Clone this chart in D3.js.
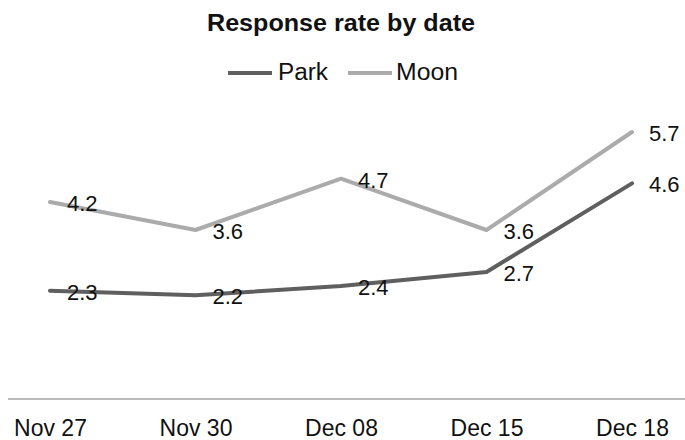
<!DOCTYPE html>
<html>
<head>
<meta charset="utf-8">
<script src="https://cdn.jsdelivr.net/npm/d3@7"></script>
<style>
  html, body { margin: 0; padding: 0; background: #fff; }
  svg { display: block; font-family: "Liberation Sans", Arial, sans-serif; }
</style>
</head>
<body>
<svg id="chart" width="685" height="440"></svg>
<script>
const categories = ["Nov 27", "Nov 30", "Dec 08", "Dec 15", "Dec 18"];
const parkValues = [2.3, 2.2, 2.4, 2.7, 4.6];
const moonValues = [4.2, 3.6, 4.7, 3.6, 5.7];
const seriesNames = ["Park", "Moon"];
const seriesColors = ["#5f5f5f", "#ababab"];
const titleText = "Response rate by date";

const svg = d3.select("#chart");

const x = d3.scalePoint().domain(categories).range([50, 632]);
const y = d3.scaleLinear().domain([0, 6]).range([398, 118]);

// Title
svg.append("text")
  .attr("x", 207).attr("y", 31)
  .attr("font-weight", "bold")
  .attr("font-size", 23)
  .attr("fill", "#111")
  .attr("textLength", 268)
  .attr("lengthAdjust", "spacingAndGlyphs")
  .text(titleText);

// Legend
const legendItems = [
  { name: seriesNames[0], color: seriesColors[0], x1: 228, x2: 272, tx: 278, w: 50 },
  { name: seriesNames[1], color: seriesColors[1], x1: 348, x2: 392, tx: 396, w: 62 }
];
legendItems.forEach(it => {
  svg.append("line")
    .attr("x1", it.x1).attr("x2", it.x2)
    .attr("y1", 73).attr("y2", 73)
    .attr("stroke", it.color).attr("stroke-width", 4);
  svg.append("text")
    .attr("x", it.tx).attr("y", 80)
    .attr("font-size", 23)
    .attr("fill", "#111")
    .attr("textLength", it.w)
    .attr("lengthAdjust", "spacingAndGlyphs")
    .text(it.name);
});

// X axis
const xAxis = d3.axisBottom(x).tickSize(0).tickPadding(0);
const gx = svg.append("g").attr("transform", "translate(0,399)").call(xAxis);
gx.select(".domain").remove();
gx.selectAll("text")
  .attr("font-size", 23)
  .attr("fill", "#111")
  .attr("dy", null)
  .attr("y", 37)
  .style("font-family", "'Liberation Sans', Arial, sans-serif");
svg.append("line")
  .attr("x1", 8).attr("x2", 685)
  .attr("y1", y(0) + 1).attr("y2", y(0) + 1)
  .attr("stroke", "#a6a6a6").attr("stroke-width", 1.5);

// Lines
const line = d3.line()
  .x((d, i) => x(categories[i]))
  .y(d => y(d));

const series = [
  { name: seriesNames[1], values: moonValues, color: seriesColors[1] },
  { name: seriesNames[0], values: parkValues, color: seriesColors[0] }
];

series.forEach(s => {
  svg.append("path")
    .datum(s.values)
    .attr("fill", "none")
    .attr("stroke", s.color)
    .attr("stroke-width", 4)
    .attr("stroke-linejoin", "round")
    .attr("stroke-linecap", "round")
    .attr("d", line);
});

series.forEach(s => {
  svg.append("g").selectAll("text")
    .data(s.values)
    .join("text")
    .attr("x", (d, i) => x(categories[i]) + 17)
    .attr("y", d => y(d) + 9)
    .attr("font-size", 22)
    .attr("fill", "#111")
    .text(d => d.toFixed(1));
});
</script>
</body>
</html>
